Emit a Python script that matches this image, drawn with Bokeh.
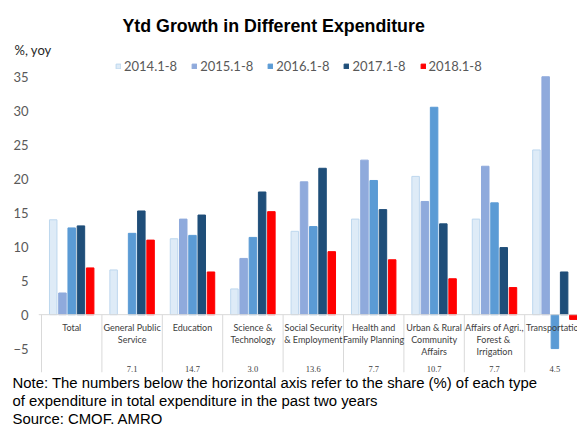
from bokeh.plotting import figure
from bokeh.models import (ColumnDataSource, Range1d, FixedTicker, Legend, LegendItem,
                          Title, Span)
from bokeh.transform import dodge
from bokeh.core.properties import value
from bokeh.embed import file_html
from bokeh.resources import INLINE

nan = float("nan")

categories = ["Total", "General Public Service", "Education", "Science & Technology",
              "Social Security & Employment", "Health and Family Planning",
              "Urban & Rural Community Affairs", "Affairs of Agri., Forest & Irrigation",
              "Transportation"]
category_lines = [["Total"], ["General Public", "Service"], ["Education"],
                  ["Science &", "Technology"], ["Social Security", "& Employment"],
                  ["Health and", "Family Planning"], ["Urban & Rural", "Community", "Affairs"],
                  ["Affairs of Agri.,", "Forest  &", "Irrigation"], ["Transportation"]]
shares = ["", "7.1", "14.7", "3.0", "13.6", "7.7", "10.7", "7.7", "4.5"]

series_names = ["2014.1-8", "2015.1-8", "2016.1-8", "2017.1-8", "2018.1-8"]
y2014 = [14.0, 6.6, 11.2, 3.8, 12.3, 14.1, 20.4, 14.1, 24.3]
y2015 = [3.2, nan, 14.1, 8.3, 19.6, 22.8, 16.7, 21.9, 35.1]
y2016 = [12.8, 12.0, 11.7, 11.4, 13.0, 19.8, 30.6, 16.5, -5.0]
y2017 = [13.1, 15.3, 14.7, 18.1, 21.6, 15.5, 13.4, 9.9, 6.3]
y2018 = [6.9, 11.0, 6.3, 15.2, 9.3, 8.1, 5.3, 4.0, -0.7]
y_ticks = [-5, 0, 5, 10, 15, 20, 25, 30, 35]

title_text = "Ytd Growth in Different Expenditure"
unit_text = "%, yoy"
notes = ["Note: The numbers below the horizontal axis refer to the share (%) of each type",
         "of expenditure in total expenditure in the past two years",
         "Source: CMOF. AMRO"]

fills = ["#DEEBF7", "#8FAADC", "#5B9BD5", "#1F4E79", "#FF0000"]
lines = ["#BDD7EE", "#8FAADC", "#5B9BD5", "#1F4E79", "#FF0000"]

# geometry: category pitch 60.4 px, 6.8 px per unit, zero at y=315
W, H = 577, 426
FL, FT, FB = 38, 57, 373
x0 = (FL - 41) / 60.4
x1 = x0 + (W - FL) / 60.4
y_end = (315 - FT) / 6.8
y_start = (315 - FB) / 6.8

p = figure(width=W, height=H, output_backend="svg", toolbar_location=None,
           x_range=Range1d(x0, x1), y_range=Range1d(y_start, y_end),
           x_axis_location=None, min_border_left=FL, min_border_right=0,
           min_border_top=FT, min_border_bottom=H - FB)
p.outline_line_color = None
p.xgrid.visible = False
p.ygrid.visible = False

yax = p.yaxis[0]
yax.ticker = FixedTicker(ticks=y_ticks)
yax.axis_line_color = None
yax.major_tick_line_color = None
yax.minor_tick_line_color = None
yax.major_tick_out = 0
yax.major_label_standoff = 10
yax.major_label_text_font = "Lato"
yax.major_label_text_font_size = "13px"
yax.major_label_text_color = "#595959"

xc = [i + 0.5 for i in range(len(categories))]
src = ColumnDataSource(dict(x=xc, y2014=y2014, y2015=y2015, y2016=y2016,
                            y2017=y2017, y2018=y2018))

p.add_layout(Span(location=0, dimension="width", line_color="#D9D9D9", line_width=1))
sep_x = list(range(len(categories) + 1))
p.segment(x0=sep_x, y0=[0] * len(sep_x), x1=sep_x, y1=[y_start] * len(sep_x),
          line_color="#D9D9D9", line_width=1)

offsets = [-0.306, -0.153, 0.0, 0.153, 0.306]
renderers = []
for k, col in enumerate(["y2014", "y2015", "y2016", "y2017", "y2018"]):
    r = p.vbar(x=dodge("x", offsets[k]), top=col, bottom=0, width=0.124, source=src,
               fill_color=fills[k], line_color=lines[k], line_width=1)
    renderers.append(r)

legend = Legend(items=[LegendItem(label=n, renderers=[r]) for n, r in zip(series_names, renderers)],
                orientation="horizontal", location=(77, FB - 75), glyph_width=6, glyph_height=6,
                label_standoff=3, spacing=14, padding=0, margin=0,
                border_line_color=None, background_fill_alpha=0,
                label_text_font="Lato", label_text_font_size="13px",
                label_text_color="#595959")
p.add_layout(legend, "center")

lx, ly, lt = [], [], []
line_y = [328, 340, 352]
for i, ls in enumerate(category_lines):
    for j, t in enumerate(ls):
        lx.append(i + 0.5)
        ly.append((315 - line_y[j]) / 6.8)
        lt.append(t)
p.text(x=lx, y=ly, text=lt, text_font=value("Lato"), text_font_size="9px",
       text_color="#404040", text_align="center", text_baseline="middle")

p.text(x=xc, y=[(315 - 369) / 6.8] * len(xc), text=shares, text_font=value("Liberation Serif"),
       text_font_size="8.5px", text_color="#404040", text_align="center", text_baseline="middle")

# titles above the frame
p.add_layout(Title(text=unit_text, align="left", offset=14 - FL, standoff=0,
                   text_font="Lato", text_font_size="13px", text_font_style="normal",
                   text_color="#262626"), "above")
p.add_layout(Title(text=title_text, align="left", offset=122 - FL, standoff=8,
                   text_font="Liberation Sans", text_font_size="17.8px", text_font_style="bold",
                   text_color="black"), "above")
# small blank spacer at the very top
p.add_layout(Title(text=" ", align="left", standoff=0, text_font_size="4px"), "above")

# notes below the frame
for t in notes:
    p.add_layout(Title(text=t, align="left", offset=12 - FL, standoff=0,
                       text_font="Liberation Sans", text_font_size="14.9px",
                       text_font_style="normal", text_color="black"), "below")

open("out.html", "w").write(file_html(p, INLINE))
